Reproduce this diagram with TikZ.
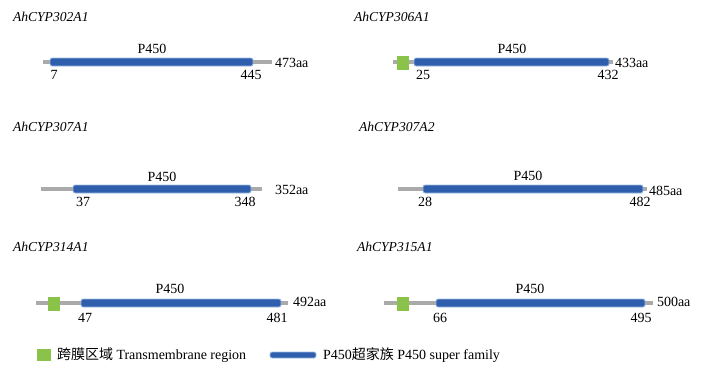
\documentclass[tikz,border=0pt]{standalone}
\usepackage{fontspec}
\setmainfont{Liberation Serif}
\newfontfamily\cjk{Noto Sans CJK SC}
\definecolor{tmgreen}{RGB}{139,195,74}
\definecolor{pblue}{RGB}{46,94,172}
\definecolor{pedge}{RGB}{160,188,228}
\definecolor{chaingray}{RGB}{170,170,170}
\begin{document}
\begin{tikzpicture}[x=1pt, y=-1pt, font=\fontsize{14}{16}\selectfont,
  every node/.style={inner sep=0pt, outer sep=0pt},
  backbone/.style={draw=chaingray, line width=3.5pt},
  pdomain/.style={fill=pblue, draw=pedge, line width=0.8pt, rounded corners=2pt, minimum height=8pt},
  tm/.style={fill=tmgreen, minimum width=12pt, minimum height=14pt},
  title/.style={anchor=base west, font=\fontsize{13.6}{16}\selectfont\itshape},
  lbl/.style={anchor=base},
  len/.style={anchor=base west}]
\useasboundingbox (0,0) rectangle (707,378);
% AhCYP302A1
\node[title] (t1) at (13,21) {AhCYP302A1};
\coordinate (s1) at (43,62); \coordinate (e1) at (272,62);
\draw[backbone] (s1) -- (e1);
\node[pdomain, minimum width=203pt] (d1) at (151.5,62) {};
\node[lbl] (p1) at (152,53) {P450};
\node[lbl] (a1) at (54,79) {7};
\node[lbl] (b1) at (251,79) {445};
\node[len] (n1) at (275,67) {473aa};
% AhCYP306A1
\node[title] (t2) at (354,21) {AhCYP306A1};
\coordinate (s2) at (393,62); \coordinate (e2) at (613,62);
\draw[backbone] (s2) -- (e2);
\node[tm] (m2) at (403,62.5) {};
\node[pdomain, minimum width=195pt] (d2) at (511.5,62) {};
\node[lbl] (p2) at (512,53) {P450};
\node[lbl] (a2) at (423,79) {25};
\node[lbl] (b2) at (608,79) {432};
\node[len] (n2) at (615,67) {433aa};
% AhCYP307A1
\node[title] (t3) at (13,131) {AhCYP307A1};
\coordinate (s3) at (41,189); \coordinate (e3) at (262,189);
\draw[backbone] (s3) -- (e3);
\node[pdomain, minimum width=178pt] (d3) at (162,189) {};
\node[lbl] (p3) at (162,181) {P450};
\node[lbl] (a3) at (83,206) {37};
\node[lbl] (b3) at (245,206) {348};
\node[len] (n3) at (275,194) {352aa};
% AhCYP307A2
\node[title] (t4) at (359,131) {AhCYP307A2};
\coordinate (s4) at (398,189); \coordinate (e4) at (647,189);
\draw[backbone] (s4) -- (e4);
\node[pdomain, minimum width=220pt] (d4) at (533,189) {};
\node[lbl] (p4) at (528,180) {P450};
\node[lbl] (a4) at (425,206) {28};
\node[lbl] (b4) at (640,206) {482};
\node[len] (n4) at (649,195) {485aa};
% AhCYP314A1
\node[title] (t5) at (13,251) {AhCYP314A1};
\coordinate (s5) at (36,303); \coordinate (e5) at (288,303);
\draw[backbone] (s5) -- (e5);
\node[tm] (m5) at (53.5,304) {};
\node[pdomain, minimum width=200pt] (d5) at (181,303) {};
\node[lbl] (p5) at (170,293) {P450};
\node[lbl] (a5) at (85,322) {47};
\node[lbl] (b5) at (277,322) {481};
\node[len] (n5) at (293,306.5) {492aa};
% AhCYP315A1
\node[title] (t6) at (357,251) {AhCYP315A1};
\coordinate (s6) at (384,303); \coordinate (e6) at (653,303);
\draw[backbone] (s6) -- (e6);
\node[tm] (m6) at (403,304) {};
\node[pdomain, minimum width=209pt] (d6) at (540.5,303) {};
\node[lbl] (p6) at (530,293) {P450};
\node[lbl] (a6) at (440,322) {66};
\node[lbl] (b6) at (641,322) {495};
\node[len] (n6) at (657,306.5) {500aa};
% legend
\node[tm, minimum height=12pt, minimum width=14pt] (kt) at (44,355) {};
\node[len] (kt-text) at (57,359) {{\cjk 跨膜区域} Transmembrane region};
\node[pdomain, minimum width=46pt, minimum height=6pt] (kd) at (293,355) {};
\node[len] (kd-text) at (323,359) {P450{\cjk 超家族} P450 super family};
\end{tikzpicture}
\end{document}
